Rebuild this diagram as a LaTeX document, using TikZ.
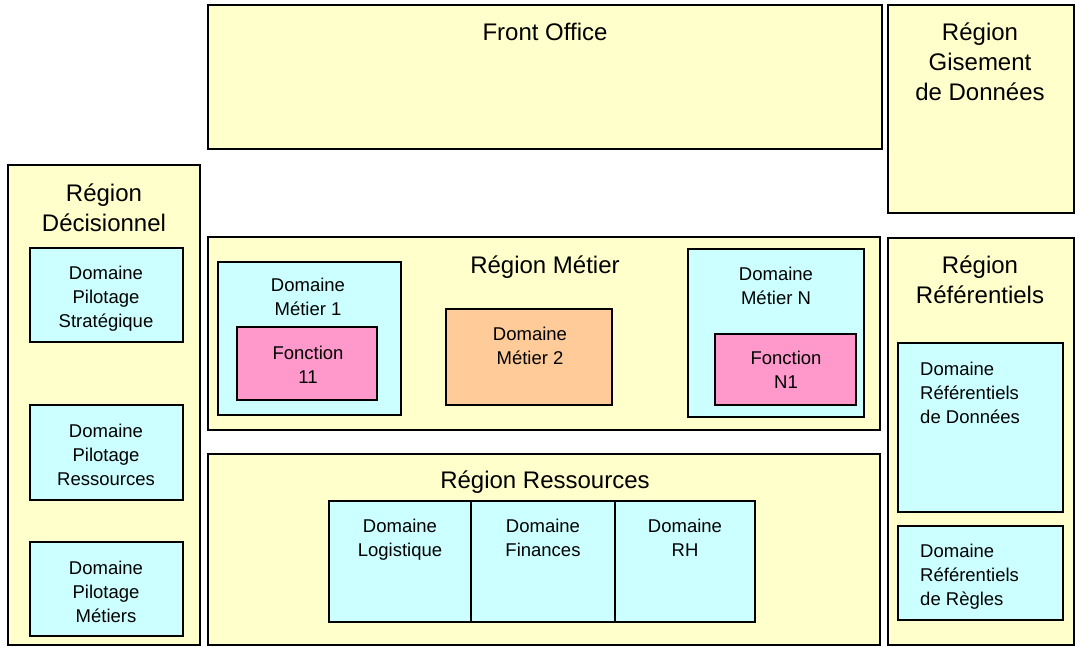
\documentclass[tikz,border=0pt]{standalone}
\usepackage{fontspec}
\setmainfont{Liberation Sans}
\definecolor{jaune}{HTML}{FFFFCC}
\definecolor{cyan2}{HTML}{CCFFFF}
\definecolor{rose}{HTML}{FF99CC}
\definecolor{orange2}{HTML}{FFCC99}
\tikzset{
  boite/.style={draw=black, line width=1.8pt, inner sep=0pt, outer sep=0pt, anchor=north west},
  region/.style={boite, fill=jaune},
  domaine/.style={boite, fill=cyan2},
  fonction/.style={boite, fill=rose},
  titre/.style={align=center, anchor=north, inner sep=0pt, font=\fontsize{24}{30}\selectfont},
  texte/.style={align=center, anchor=north, inner sep=0pt, font=\fontsize{18.5}{24}\selectfont},
}
\begin{document}
\begin{tikzpicture}[x=1pt,y=-1pt]
        \useasboundingbox[fill=white] (0,0) rectangle (1075,647);
        % regions
        \node[region, minimum width=674pt, minimum height=144pt] (fo) at (208,5) {};
        \node[region, minimum width=186pt, minimum height=208pt] (gis) at (888,5) {};
        \node[region, minimum width=192pt, minimum height=480pt] (dec) at (8,165) {};
        \node[region, minimum width=672pt, minimum height=193pt] (met) at (208,237) {};
        \node[region, minimum width=672pt, minimum height=191pt] (res) at (208,454) {};
        \node[region, minimum width=186pt, minimum height=407pt] (ref) at (888,238) {};
        \node[titre] (fot) at (545,23) {Front Office};
        \node[titre] (gist) at (980,23) {Région\\Gisement\\de Données};
        \node[titre] (dect) at (104,184) {Région\\Décisionnel};
        \node[titre] (mett) at (545,256) {Région Métier};
        \node[titre] (rest) at (545,471) {Région Ressources};
        \node[titre] (reft) at (980,256) {Région\\Référentiels};
        % region decisionnel
        \node[domaine, minimum width=153pt, minimum height=94pt] (dps) at (30,248) {};
        \node[domaine, minimum width=153pt, minimum height=95pt] (dpr) at (30,405) {};
        \node[domaine, minimum width=153pt, minimum height=94pt] (dpm) at (30,542) {};
        \node[texte] at (106,266) {Domaine\\Pilotage\\Stratégique};
        \node[texte] at (106,424) {Domaine\\Pilotage\\Ressources};
        \node[texte] at (106,561) {Domaine\\Pilotage\\Métiers};
        % region metier
        \node[domaine, minimum width=183pt, minimum height=153pt] (dm1) at (218,262) {};
        \node[fonction, minimum width=140pt, minimum height=73pt] (f11) at (237,327) {};
        \node[boite, fill=orange2, minimum width=166pt, minimum height=96pt] (dm2) at (446,309) {};
        \node[domaine, minimum width=176pt, minimum height=168pt] (dmn) at (688,249) {};
        \node[fonction, minimum width=141pt, minimum height=71pt] (fn1) at (715,334) {};
        \node[texte] at (308,278) {Domaine\\Métier 1};
        \node[texte] at (308,346) {Fonction\\11};
        \node[texte] at (530,327) {Domaine\\Métier 2};
        \node[texte] at (776,267) {Domaine\\Métier N};
        \node[texte] at (786,351) {Fonction\\N1};
        % region ressources
        \node[domaine, minimum width=142pt, minimum height=121pt] (log) at (329,501) {};
        \node[domaine, minimum width=144pt, minimum height=121pt] (fin) at (471,501) {};
        \node[domaine, minimum width=140pt, minimum height=121pt] (rh) at (615,501) {};
        \node[texte] at (400,519) {Domaine\\Logistique};
        \node[texte] at (543,519) {Domaine\\Finances};
        \node[texte] at (685,519) {Domaine\\RH};
        % region referentiels
        \node[domaine, minimum width=165pt, minimum height=169pt] (rdo) at (898,343) {};
        \node[domaine, minimum width=165pt, minimum height=94pt] (rrg) at (898,526) {};
        \node[texte, align=left, anchor=north west] at (920,362) {Domaine\\Référentiels\\de Données};
        \node[texte, align=left, anchor=north west] at (920,544) {Domaine\\Référentiels\\de Règles};
\end{tikzpicture}
\end{document}
